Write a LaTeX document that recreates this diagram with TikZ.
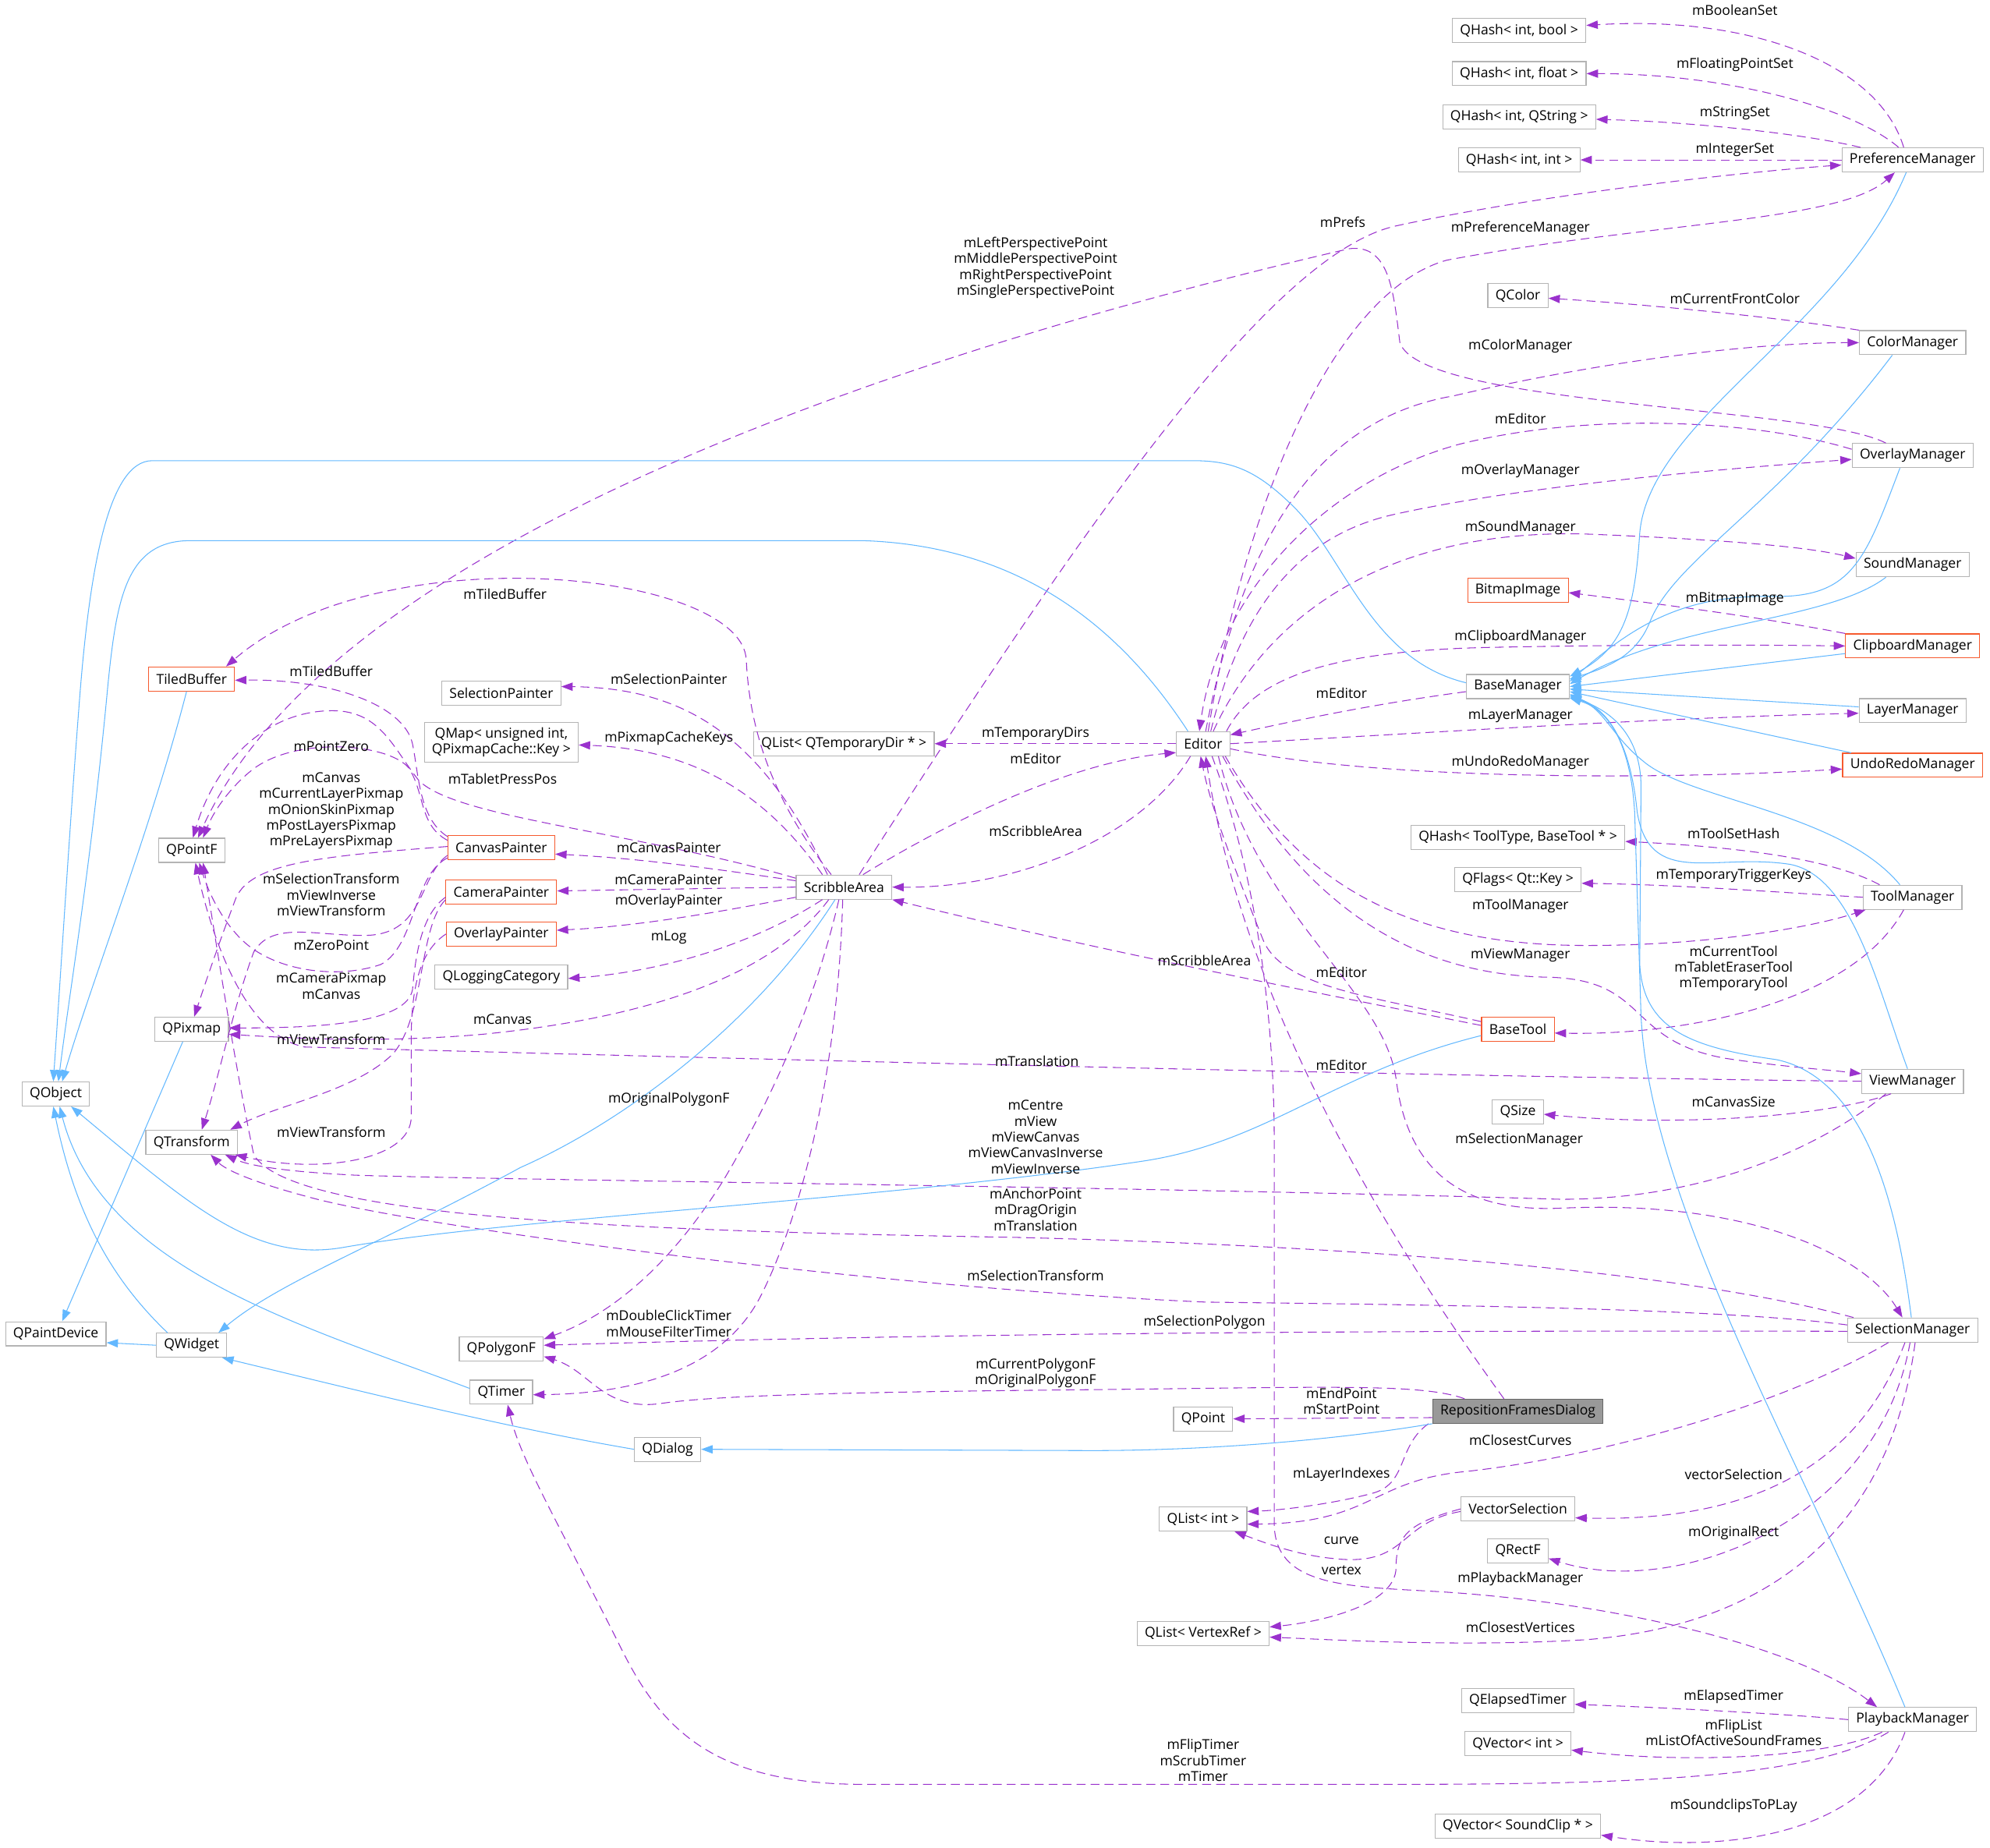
\documentclass[tikz,border=0pt]{standalone}
\usepackage{fontspec}
\setmainfont{Open Sans}
\usetikzlibrary{arrows.meta}
\definecolor{clsgray}{HTML}{B4B4B4}
\definecolor{truncred}{HTML}{F65A2E}
\definecolor{curfill}{HTML}{999999}
\definecolor{curdraw}{HTML}{666666}
\definecolor{inhblue}{HTML}{63B8FF}
\definecolor{usepurple}{HTML}{9A32CD}
\newcommand{\clsfont}{\fontsize{10.8}{12.5}\selectfont}

\begin{document}
\begin{tikzpicture}[x=1pt, y=-1pt,
    cls/.style={draw=clsgray, line width=0.7pt, fill=white, inner xsep=6pt, inner ysep=2pt, minimum height=19pt, font=\clsfont, align=center},
    trunc/.style={cls, draw=truncred},
    cur/.style={cls, fill=curfill, draw=curdraw},
    inh/.style={draw=inhblue, line width=0.65pt, -{Triangle[length=9pt,width=6.5pt]}},
    usage/.style={draw=usepurple, line width=0.65pt, dash pattern=on 7pt off 4pt, -{Triangle[length=9pt,width=6.5pt]}},
    lbl/.style={font=\clsfont, align=center, inner sep=0pt}
]
    \useasboundingbox (0,0) rectangle (1568,1456);

    \node[cls] (hBool) at (1197,24) {QHash< int, bool >};
    \node[cls] (hFloat) at (1197,58) {QHash< int, float >};
    \node[cls] (hString) at (1197,92) {QHash< int, QString >};
    \node[cls] (hInt) at (1197,126) {QHash< int, int >};
    \node[cls] (prefMgr) at (1507,126) {PreferenceManager};
    \node[cls] (qColor) at (1196,233) {QColor};
    \node[cls] (colorMgr) at (1507,270) {ColorManager};
    \node[cls] (overlayMgr) at (1507,359) {OverlayManager};
    \node[cls] (soundMgr) at (1507,445) {SoundManager};
    \node[trunc] (bitmapImg) at (1196,465) {BitmapImage};
    \node[trunc] (clipMgr) at (1507,509) {ClipboardManager};
    \node[cls] (baseMgr) at (1196,541) {BaseManager};
    \node[cls] (layerMgr) at (1507,560) {LayerManager};
    \node[trunc] (undoMgr) at (1507,603) {UndoRedoManager};
    \node[cls] (editor) at (948,586) {Editor};
    \node[cls] (tempDirs) at (665,586) {QList< QTemporaryDir * >};
    \node[cls] (hTool) at (1196,660) {QHash< ToolType, BaseTool * >};
    \node[cls] (qFlags) at (1196,693) {QFlags< Qt::Key >};
    \node[cls] (toolMgr) at (1507,707) {ToolManager};
    \node[trunc] (baseTool) at (1196,811) {BaseTool};
    \node[cls] (viewMgr) at (1507,852) {ViewManager};
    \node[cls] (qSize) at (1196,876) {QSize};
    \node[cls] (selMgr) at (1507,1048) {SelectionManager};
    \node[cur] (repoDlg) at (1196,1112) {RepositionFramesDialog};
    \node[cls] (qPoint) at (948,1118) {QPoint};
    \node[cls] (listInt) at (948,1197) {QList< int >};
    \node[cls] (vecSel) at (1196,1189) {VectorSelection};
    \node[cls] (qRectF) at (1196,1222) {QRectF};
    \node[cls] (listVtx) at (948,1287) {QList< VertexRef >};
    \node[cls] (elapsed) at (1196,1340) {QElapsedTimer};
    \node[cls] (vecInt) at (1196,1374) {QVector< int >};
    \node[cls] (playMgr) at (1507,1355) {PlaybackManager};
    \node[cls] (vecClip) at (1196,1439) {QVector< SoundClip * >};
    \node[cls] (scribble) at (665,699) {ScribbleArea};
    \node[cls] (selPainter) at (395,546) {SelectionPainter};
    \node[cls, minimum height=31pt] (pixMap) at (395,585) {QMap< unsigned int,\\ QPixmapCache::Key >};
    \node[trunc] (canvasP) at (395,668) {CanvasPainter};
    \node[trunc] (cameraP) at (395,703) {CameraPainter};
    \node[trunc] (overlayP) at (395,736) {OverlayPainter};
    \node[cls] (logCat) at (395,770) {QLoggingCategory};
    \node[cls] (polyF) at (395,1063) {QPolygonF};
    \node[cls] (qTimer) at (395,1097) {QTimer};
    \node[cls] (qDialog) at (526,1142) {QDialog};
    \node[trunc] (tiled) at (151,535) {TiledBuffer};
    \node[cls] (pointF) at (151,670) {QPointF};
    \node[cls] (pixmap) at (151,811) {QPixmap};
    \node[cls] (qObject) at (44,862) {QObject};
    \node[cls] (transform) at (151,900) {QTransform};
    \node[cls] (paintDev) at (44,1051) {QPaintDevice};
    \node[cls] (qWidget) at (151,1060) {QWidget};

    \draw[usage] ([xshift=-7pt]prefMgr.north) .. controls (1480,50) and (1380,12) .. ([yshift=4pt]hBool.east);
    \draw[usage] ([xshift=-11pt]prefMgr.north) .. controls (1460,85) and (1360,58) .. (hFloat.east);
    \draw[usage] ([xshift=-41pt]prefMgr.north) .. controls (1420,105) and (1330,96) .. ([yshift=-2pt]hString.east);
    \draw[usage] (prefMgr.west) -- (hInt.east);
    \draw[usage] ([xshift=12pt]scribble.north) .. controls (850,420) and (1000,200) .. (1100,178) .. controls (1220,152) and (1380,135) .. ([yshift=-4pt]prefMgr.west);
    \draw[usage] ([xshift=4pt]editor.north) .. controls (980,400) and (1050,230) .. (1140,205) .. controls (1300,175) and (1450,175) .. ([xshift=-14pt]prefMgr.south);
    \draw[usage] (colorMgr.north west) .. controls (1400,250) and (1300,240) .. ([yshift=-2pt]qColor.east);
    \draw[usage] ([xshift=2pt]editor.north) .. controls (980,420) and (1040,330) .. (1145,312) .. controls (1260,285) and (1380,270) .. (colorMgr.west);
    \draw[usage] ([xshift=-21pt]overlayMgr.north) .. controls (1430,320) and (1120,320) .. (1103,270) .. controls (1098,230) and (1095,192) .. (1063,196) .. controls (700,280) and (260,430) .. ([xshift=5pt]pointF.north);
    \draw[usage] ([xshift=6pt]editor.north) .. controls (980,470) and (1030,420) .. (1100,405) .. controls (1200,383) and (1350,370) .. ([yshift=-3pt]overlayMgr.west);
    \draw[usage] ([yshift=5pt]overlayMgr.west) .. controls (1380,330) and (1250,325) .. (1150,350) .. controls (1040,380) and (960,470) .. ([xshift=-3pt]editor.north);
    \draw[usage] ([xshift=8pt]editor.north) .. controls (1000,480) and (1100,415) .. (1255,421) .. controls (1350,425) and (1420,430) .. ([yshift=5pt]soundMgr.west);
    \draw[usage] (clipMgr.north west) .. controls (1380,485) and (1300,475) .. ([yshift=-2pt]bitmapImg.east);
    \draw[usage] ([xshift=-3pt]editor.north east) .. controls (990,530) and (1060,512) .. (1180,510) .. controls (1280,508) and (1380,508) .. (clipMgr.west);
    \draw[usage] ([yshift=-4pt]baseMgr.west) .. controls (1080,555) and (1020,568) .. ([yshift=7pt]editor.east);
    \draw[usage] (editor.east) .. controls (1150,576) and (1300,566) .. ([yshift=-2pt]layerMgr.west);
    \draw[usage] ([yshift=-4pt]editor.east) .. controls (1080,614) and (1300,615) .. ([yshift=-3pt]undoMgr.west);
    \draw[usage] ([xshift=-26pt]toolMgr.north) .. controls (1440,675) and (1360,667) .. ([yshift=-3pt]hTool.east);
    \draw[usage] (toolMgr.west) .. controls (1400,703) and (1320,697) .. ([yshift=-3pt]qFlags.east);
    \draw[usage] ([xshift=-4pt]editor.south east) .. controls (1020,690) and (1100,745) .. (1250,745) .. controls (1350,745) and (1430,730) .. ([xshift=-37pt]toolMgr.south);
    \draw[usage] ([xshift=-7pt]toolMgr.south) .. controls (1460,790) and (1330,816) .. ([yshift=-3pt]baseTool.east);
    \draw[usage] ([xshift=-6pt]editor.south east) .. controls (1020,700) and (1100,768) .. (1220,770) .. controls (1300,772) and (1280,820) .. (1360,834) .. controls (1400,840) and (1440,843) .. ([yshift=6pt]viewMgr.west);
    \draw[usage] ([yshift=3pt]baseTool.west) .. controls (1000,775) and (850,745) .. (scribble.south east);
    \draw[usage] ([yshift=6pt]baseTool.west) .. controls (1080,785) and (1010,778) .. (995,740) .. controls (975,690) and (955,640) .. ([xshift=-2pt]editor.south);
    \draw[usage] ([xshift=-17pt]viewMgr.south) .. controls (1440,880) and (1320,888) .. ([yshift=-2pt]qSize.east);
    \draw[usage] ([xshift=-21pt]viewMgr.south) .. controls (1440,900) and (1350,945) .. (1230,945) .. controls (900,935) and (400,930) .. (280,926) .. controls (220,923) and (195,918) .. ([xshift=-10pt]transform.south east);
    \draw[usage] (viewMgr.west) .. controls (1100,848) and (500,832) .. (240,825) .. controls (190,815) and (165,730) .. ([xshift=3pt]pointF.south);
    \draw[usage] ([xshift=12pt]editor.south) .. controls (990,720) and (1090,780) .. (1100,850) .. controls (1110,930) and (1160,955) .. (1230,952) .. controls (1380,945) and (1470,990) .. ([xshift=-8pt]selMgr.north);
    \draw[usage] ([xshift=5pt]selMgr.north west) .. controls (1300,995) and (1000,980) .. (800,975) .. controls (500,970) and (230,960) .. (200,910) .. controls (185,840) and (170,740) .. ([xshift=9pt]pointF.south);
    \draw[usage] ([yshift=4pt]selMgr.west) .. controls (1350,1030) and (1100,1028) .. (950,1026) .. controls (700,1015) and (350,970) .. (250,945) .. controls (200,932) and (178,922) .. ([xshift=15pt]transform.south);
    \draw[usage] ([yshift=-1pt]selMgr.west) .. controls (1000,1048) and (700,1052) .. ([yshift=3pt]polyF.east);
    \draw[usage] ([xshift=-19pt]selMgr.south) .. controls (1400,1110) and (1250,1150) .. (1150,1160) .. controls (1080,1168) and (1080,1200) .. ([yshift=-4pt]listInt.east);
    \draw[usage] ([xshift=-6pt]selMgr.south) .. controls (1470,1140) and (1400,1200) .. ([yshift=-7pt]vecSel.east);
    \draw[usage] ([xshift=-2pt]selMgr.south) .. controls (1480,1200) and (1320,1260) .. ([yshift=-6pt]qRectF.east);
    \draw[usage] ([xshift=2pt]selMgr.south) .. controls (1490,1200) and (1400,1280) .. (1250,1292) .. controls (1150,1298) and (1050,1292) .. ([yshift=-3pt]listVtx.east);
    \draw[usage] ([xshift=-11pt]repoDlg.north) .. controls (1060,930) and (975,760) .. ([xshift=2pt]editor.south);
    \draw[usage] ([xshift=-42pt]repoDlg.north) .. controls (1120,1090) and (1050,1093) .. (860,1095) .. controls (650,1097) and (560,1100) .. (520,1106) .. controls (475,1112) and (465,1080) .. ([yshift=4pt]polyF.south east);
    \draw[usage] ([yshift=-5pt]repoDlg.west) -- (qPoint.east);
    \draw[usage] ([xshift=-3pt]repoDlg.south west) .. controls (1100,1140) and (1110,1170) .. (1080,1177) .. controls (1050,1185) and (1010,1190) .. ([yshift=6pt]listInt.east);
    \draw[usage] ([yshift=-2pt]vecSel.west) .. controls (1100,1200) and (1110,1235) .. (1050,1228) .. controls (1020,1225) and (995,1215) .. ([xshift=-10pt]listInt.south east);
    \draw[usage] (vecSel.west) .. controls (1110,1200) and (1100,1210) .. (1100,1235) .. controls (1100,1265) and (1040,1278) .. ([yshift=5pt]listVtx.east);
    \draw[usage] ([xshift=7pt]editor.south) .. controls (990,690) and (1004,800) .. (1004,900) -- (1004,1200) .. controls (1004,1250) and (1060,1250) .. (1131,1254) .. controls (1280,1263) and (1420,1300) .. ([xshift=-28pt]playMgr.north);
    \draw[usage] (playMgr.west) .. controls (1400,1350) and (1300,1345) .. ([yshift=-3pt]elapsed.east);
    \draw[usage] ([xshift=-24pt]playMgr.south) .. controls (1440,1385) and (1330,1390) .. ([yshift=-5pt]vecInt.east);
    \draw[usage] ([xshift=-19pt]playMgr.south) .. controls (1430,1400) and (1300,1406) .. (1100,1406) -- (680,1406) .. controls (560,1406) and (520,1360) .. (490,1300) .. controls (440,1200) and (410,1150) .. ([xshift=5pt]qTimer.south);
    \draw[usage] ([xshift=-6pt]playMgr.south) .. controls (1470,1450) and (1350,1460) .. ([yshift=-7pt]vecClip.east);

    \draw[usage] ([xshift=-10pt]scribble.north) .. controls (600,620) and (590,560) .. (588,520) .. controls (585,450) and (300,420) .. ([xshift=-7pt]tiled.north east);
    \draw[usage] ([xshift=-13pt]scribble.north) .. controls (600,580) and (540,542) .. ([yshift=5pt]selPainter.east);
    \draw[usage] ([xshift=-17pt]scribble.north) .. controls (600,620) and (540,590) .. ([yshift=-2pt]pixMap.east);
    \draw[usage] ([yshift=7pt]scribble.west) .. controls (500,655) and (360,645) .. (330,615) .. controls (310,590) and (300,560) .. (262,560) .. controls (210,560) and (170,600) .. ([xshift=1pt]pointF.north);
    \draw[usage] ([yshift=5pt]scribble.west) .. controls (560,684) and (500,676) .. ([yshift=-5pt]canvasP.east);
    \draw[usage] (scribble.west) -- ([yshift=1pt]cameraP.east);
    \draw[usage] ([yshift=-8pt]scribble.west) .. controls (560,720) and (500,730) .. ([yshift=3pt]overlayP.east);
    \draw[usage] ([xshift=-17pt]scribble.south) .. controls (600,740) and (530,765) .. ([yshift=-1pt]logCat.east);
    \draw[usage] ([xshift=-12pt]scribble.south) .. controls (600,780) and (480,805) .. (380,815) .. controls (300,822) and (230,818) .. ([yshift=-4pt]pixmap.east);
    \draw[usage] ([xshift=15pt]scribble.north) .. controls (760,640) and (850,600) .. ([yshift=-7pt]editor.west);
    \draw[usage] ([xshift=-10pt]editor.south) .. controls (900,660) and (800,700) .. (scribble.east);
    \draw[usage] (editor.west) -- (tempDirs.east);
    \draw[usage] ([xshift=-4pt]scribble.south) .. controls (640,800) and (600,880) .. (570,930) .. controls (520,1010) and (470,1040) .. ([yshift=-2pt]polyF.north east);
    \draw[usage] ([xshift=-1pt]scribble.south) .. controls (660,850) and (630,960) .. (600,1020) .. controls (570,1080) and (500,1098) .. ([yshift=-2pt]qTimer.east);

    \draw[usage] ([yshift=-1pt]canvasP.north west) .. controls (330,645) and (330,610) .. (325,586) .. controls (318,555) and (260,535) .. ([yshift=-1pt]tiled.east);
    \draw[usage] ([yshift=-4pt]canvasP.north west) .. controls (330,650) and (335,625) .. (322,605) .. controls (305,585) and (230,580) .. (197,608) .. controls (180,622) and (168,640) .. ([xshift=9pt]pointF.north);
    \draw[usage] ([yshift=1pt]canvasP.west) .. controls (250,675) and (195,680) .. (185,710) .. controls (170,750) and (160,780) .. ([xshift=2pt]pixmap.north);
    \draw[usage] ([yshift=-6pt]canvasP.west) .. controls (330,690) and (335,735) .. (290,737) .. controls (250,738) and (215,725) .. (200,750) .. controls (185,790) and (172,850) .. ([xshift=8pt]transform.north);
    \draw[usage] ([yshift=-8pt]canvasP.west) .. controls (325,690) and (328,745) .. (300,760) .. controls (265,772) and (215,765) .. (190,740) .. controls (175,725) and (165,705) .. ([xshift=6pt]pointF.south);
    \draw[usage] ([yshift=-4pt]cameraP.west) .. controls (330,722) and (327,760) .. (325,780) .. controls (320,805) and (260,810) .. ([yshift=1pt]pixmap.east);
    \draw[usage] ([yshift=-6pt]cameraP.west) .. controls (330,730) and (335,800) .. (310,830) .. controls (280,860) and (220,870) .. ([xshift=-6pt]transform.north east);
    \draw[usage] (overlayP.west) .. controls (330,750) and (324,780) .. (324,820) -- (324,880) .. controls (324,915) and (250,925) .. ([xshift=-2pt]transform.south east);

    \draw[inh] ([xshift=-5pt]prefMgr.south) .. controls (1450,260) and (1300,330) .. (1292,420) .. controls (1288,480) and (1280,510) .. ([yshift=8pt]baseMgr.east);
    \draw[inh] ([xshift=-16pt]colorMgr.south) .. controls (1400,400) and (1320,440) .. (1300,490) .. controls (1290,515) and (1270,525) .. ([yshift=6pt]baseMgr.east);
    \draw[inh] ([xshift=-10pt]overlayMgr.south) .. controls (1470,440) and (1460,470) .. (1400,470) .. controls (1330,468) and (1290,490) .. ([yshift=4pt]baseMgr.east);
    \draw[inh] ([xshift=-21pt]soundMgr.south) .. controls (1440,490) and (1320,490) .. ([yshift=2pt]baseMgr.east);
    \draw[inh] ([yshift=-6pt]clipMgr.west) -- (baseMgr.east);
    \draw[inh] ([yshift=3pt]layerMgr.west) -- ([yshift=-2pt]baseMgr.east);
    \draw[inh] ([xshift=7pt]undoMgr.north west) -- ([yshift=-4pt]baseMgr.east);
    \draw[inh] ([xshift=-10pt]toolMgr.north) .. controls (1450,640) and (1330,630) .. (1295,600) .. controls (1270,580) and (1265,560) .. ([yshift=-6pt]baseMgr.east);
    \draw[inh] ([xshift=-4pt]viewMgr.north) .. controls (1480,780) and (1460,690) .. (1410,681) .. controls (1350,672) and (1300,700) .. (1290,640) .. controls (1285,590) and (1270,560) .. ([yshift=-7pt]baseMgr.east);
    \draw[inh] ([xshift=-1pt]selMgr.north) .. controls (1495,950) and (1470,850) .. (1400,835) .. controls (1330,825) and (1295,810) .. (1292,760) -- (1293,620) .. controls (1293,580) and (1270,560) .. ([yshift=-8pt]baseMgr.east);
    \draw[inh] ([xshift=-6pt]playMgr.north) .. controls (1420,1150) and (1300,950) .. (1293,800) -- (1288,640) .. controls (1285,590) and (1270,560) .. ([yshift=-9pt]baseMgr.east);
    \draw[inh] ([yshift=3pt]baseMgr.west) .. controls (1080,520) and (1060,440) .. (1020,400) .. controls (990,370) and (970,363) .. (940,363) -- (120,363) .. controls (85,363) and (70,450) .. (62,560) .. controls (55,650) and (47,780) .. ([xshift=-2pt]qObject.north);
    \draw[inh] ([xshift=-12pt]editor.north) .. controls (880,490) and (800,430) .. (680,426) -- (150,426) .. controls (100,426) and (92,470) .. (85,540) .. controls (72,680) and (55,780) .. ([xshift=2pt]qObject.north);
    \draw[inh] ([xshift=-4pt]tiled.south) .. controls (120,650) and (70,780) .. ([xshift=5pt]qObject.north);
    \draw[inh] ([xshift=-7pt]scribble.south) .. controls (600,800) and (500,880) .. (410,920) .. controls (300,980) and (220,1010) .. ([xshift=-7pt]qWidget.north east);
    \draw[inh] ([xshift=-19pt]qWidget.north) .. controls (90,1010) and (60,960) .. ([xshift=-2pt]qObject.south);
    \draw[inh] (qWidget.west) -- ([yshift=-7pt]paintDev.east);
    \draw[inh] ([xshift=-7pt]pixmap.south) -- ([xshift=5pt]paintDev.north);
    \draw[inh] ([yshift=3pt]qTimer.west) .. controls (240,1045) and (80,1000) .. ([xshift=3pt]qObject.south);
    \draw[inh] ([yshift=-5pt]baseTool.west) .. controls (1050,845) and (1000,900) .. (900,915) .. controls (700,945) and (400,960) .. (270,983) .. controls (200,995) and (150,950) .. ([xshift=12pt]qObject.south);
    \draw[inh] (qDialog.west) .. controls (400,1125) and (300,1100) .. ([xshift=-4pt]qWidget.south east);
    \draw[inh] (repoDlg.south west) .. controls (1050,1135) and (950,1143) .. (860,1143) -- (qDialog.east);

    \node[lbl] (lBool) at (1367,8) {mBooleanSet};
    \node[lbl] (lFloat) at (1367,51) {mFloatingPointSet};
    \node[lbl] (lString) at (1367,89) {mStringSet};
    \node[lbl] (lInt) at (1367,118) {mIntegerSet};
    \node[lbl] (lPrefs) at (1058,175) {mPrefs};
    \node[lbl] (lPrefMgr) at (1198,180) {mPreferenceManager};
    \node[lbl] (lPersp) at (816,211) {mLeftPerspectivePoint\\mMiddlePerspectivePoint\\mRightPerspectivePoint\\mSinglePerspectivePoint};
    \node[lbl] (lFront) at (1367,235) {mCurrentFrontColor};
    \node[lbl] (lColorMgr) at (1198,273) {mColorManager};
    \node[lbl] (lEdOverlay) at (1198,330) {mEditor};
    \node[lbl] (lOverlayMgr) at (1198,371) {mOverlayManager};
    \node[lbl] (lSoundMgr) at (1198,416) {mSoundManager};
    \node[lbl] (lBitmap) at (1367,472) {mBitmapImage};
    \node[lbl] (lClipMgr) at (1198,502) {mClipboardManager};
    \node[lbl] (lTiledSA) at (398,468) {mTiledBuffer};
    \node[lbl] (lTiledCP) at (261,529) {mTiledBuffer};
    \node[lbl] (lSelPainter) at (527,535) {mSelectionPainter};
    \node[lbl] (lEdBase) at (1057,546) {mEditor};
    \node[lbl] (lCacheKeys) at (527,582) {mPixmapCacheKeys};
    \node[lbl] (lTempDirs) at (816,578) {mTemporaryDirs};
    \node[lbl] (lLayerMgr) at (1198,564) {mLayerManager};
    \node[lbl] (lPointZero) at (261,588) {mPointZero};
    \node[lbl] (lEdScribble) at (816,598) {mEditor};
    \node[lbl] (lUndoMgr) at (1198,601) {mUndoRedoManager};
    \node[lbl] (lCanvasPix) at (261,639) {mCanvas\\mCurrentLayerPixmap\\mOnionSkinPixmap\\mPostLayersPixmap\\mPreLayersPixmap};
    \node[lbl] (lTablet) at (396,614) {mTabletPressPos};
    \node[lbl] (lScribbleEd) at (816,655) {mScribbleArea};
    \node[lbl] (lToolSet) at (1366,657) {mToolSetHash};
    \node[lbl] (lCanvasP) at (527,668) {mCanvasPainter};
    \node[lbl] (lCameraP) at (527,693) {mCameraPainter};
    \node[lbl] (lTrigger) at (1366,690) {mTemporaryTriggerKeys};
    \node[lbl] (lCanvasTr) at (261,705) {mSelectionTransform\\mViewInverse\\mViewTransform};
    \node[lbl] (lOverlayP) at (527,710) {mOverlayPainter};
    \node[lbl] (lToolMgr) at (1198,714) {mToolManager};
    \node[lbl] (lLog) at (527,739) {mLog};
    \node[lbl] (lZeroPoint) at (261,745) {mZeroPoint};
    \node[lbl] (lTools) at (1366,763) {mCurrentTool\\mTabletEraserTool\\mTemporaryTool};
    \node[lbl] (lScribbleTool) at (949,757) {mScribbleArea};
    \node[lbl] (lViewMgr) at (1198,753) {mViewManager};
    \node[lbl] (lEdTool) at (1057,766) {mEditor};
    \node[lbl] (lCameraPix) at (261,777) {mCameraPixmap\\mCanvas};
    \node[lbl] (lCanvasSA) at (396,803) {mCanvas};
    \node[lbl] (lViewTrCam) at (261,819) {mViewTransform};
    \node[lbl] (lTransView) at (817,836) {mTranslation};
    \node[lbl] (lEdRepo) at (1057,839) {mEditor};
    \node[lbl] (lOrigPolySA) at (527,866) {mOriginalPolygonF};
    \node[lbl] (lCanvasSize) at (1366,868) {mCanvasSize};
    \node[lbl] (lCentre) at (816,896) {mCentre\\mView\\mViewCanvas\\mViewCanvasInverse\\mViewInverse};
    \node[lbl] (lViewTrOv) at (261,892) {mViewTransform};
    \node[lbl] (lSelMgr) at (1197,898) {mSelectionManager};
    \node[lbl] (lAnchor) at (816,953) {mAnchorPoint\\mDragOrigin\\mTranslation};
    \node[lbl] (lSelTr) at (816,1005) {mSelectionTransform};
    \node[lbl] (lClickTimer) at (527,1043) {mDoubleClickTimer\\mMouseFilterTimer};
    \node[lbl] (lSelPoly) at (949,1042) {mSelectionPolygon};
    \node[lbl] (lPolyRepo) at (816,1082) {mCurrentPolygonF\\mOriginalPolygonF};
    \node[lbl] (lPoints) at (1057,1104) {mEndPoint\\mStartPoint};
    \node[lbl] (lCurves) at (1198,1135) {mClosestCurves};
    \node[lbl] (lLayerIdx) at (1057,1162) {mLayerIndexes};
    \node[lbl] (lVecSel) at (1366,1162) {vectorSelection};
    \node[lbl] (lCurve) at (1057,1214) {curve};
    \node[lbl] (lOrigRect) at (1366,1208) {mOriginalRect};
    \node[lbl] (lVertex) at (1057,1237) {vertex};
    \node[lbl] (lPlayMgr) at (1198,1244) {mPlaybackManager};
    \node[lbl] (lVertices) at (1198,1282) {mClosestVertices};
    \node[lbl] (lElapsed) at (1366,1337) {mElapsedTimer};
    \node[lbl] (lFlipList) at (1366,1365) {mFlipList\\mListOfActiveSoundFrames};
    \node[lbl] (lTimers) at (948,1387) {mFlipTimer\\mScrubTimer\\mTimer};
    \node[lbl] (lClips) at (1366,1423) {mSoundclipsToPLay};
\end{tikzpicture}
\end{document}
